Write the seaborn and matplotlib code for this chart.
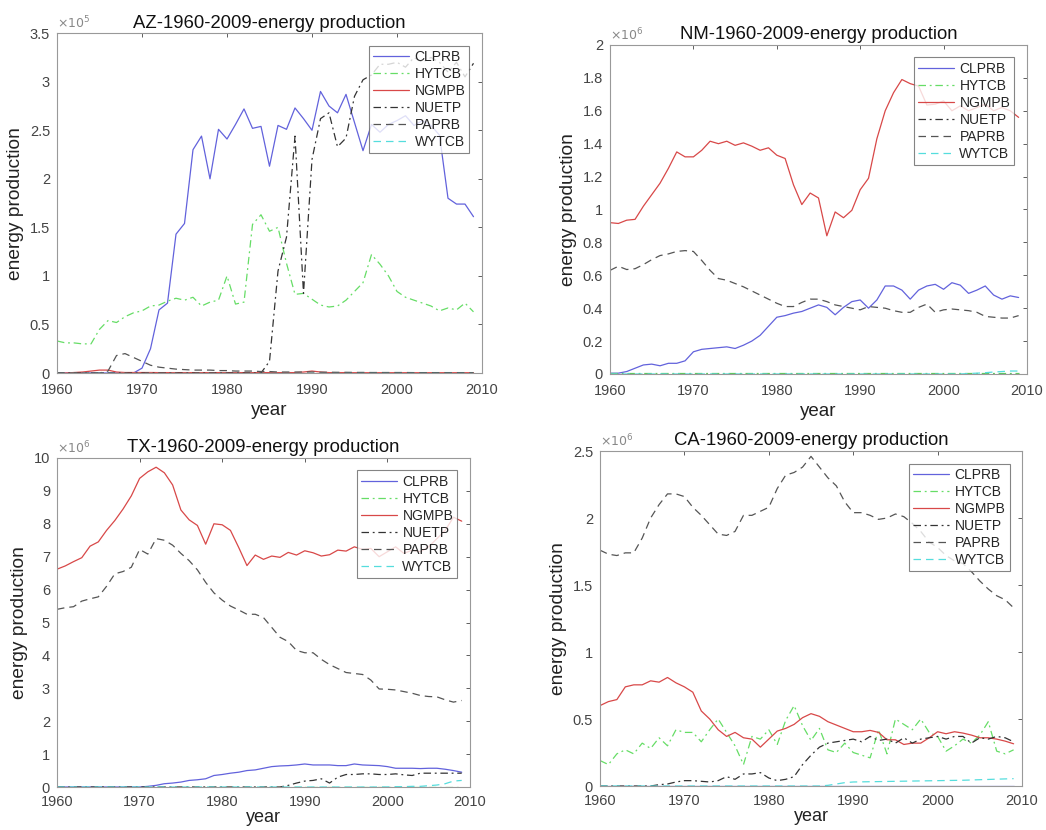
import numpy as np
import pandas as pd
import matplotlib
matplotlib.use("Agg")
import matplotlib.pyplot as plt
import seaborn as sns

years = list(range(1960, 2010))
series_names = ["CLPRB", "HYTCB", "NGMPB", "NUETP", "PAPRB", "WYTCB"]

# ---------------- AZ (x1e5) ----------------
az_CLPRB = [0, 0, 0, 0, 0, 0, 0, 0, 0, 0,
            0.05, 0.25, 0.65, 0.72, 1.43, 1.54, 2.30, 2.44, 2.00, 2.51,
            2.41, 2.56, 2.72, 2.52, 2.54, 2.13, 2.55, 2.51, 2.73, 2.62,
            2.50, 2.90, 2.75, 2.68, 2.87, 2.58, 2.29, 2.56, 2.48, 2.56,
            2.60, 2.65, 2.55, 2.60, 2.55, 2.45, 1.80, 1.74, 1.74, 1.61]
az_HYTCB = [0.33, 0.31, 0.31, 0.30, 0.30, 0.45, 0.54, 0.52, 0.58, 0.62,
            0.64, 0.69, 0.70, 0.74, 0.77, 0.75, 0.78, 0.69, 0.73, 0.75,
            1.00, 0.71, 0.73, 1.53, 1.63, 1.46, 1.50, 1.13, 0.81, 0.82,
            0.76, 0.70, 0.68, 0.69, 0.75, 0.84, 0.93, 1.22, 1.12, 1.00,
            0.84, 0.78, 0.75, 0.72, 0.69, 0.64, 0.67, 0.65, 0.72, 0.63]
az_NGMPB = [0.0, 0.0, 0.005, 0.01, 0.02, 0.03, 0.03, 0.01, 0.005, 0.005,
            0.005, 0.005, 0.004, 0.004, 0.004, 0.004, 0.004, 0.004, 0.004, 0.004,
            0.004, 0.004, 0.004, 0.004, 0.004, 0.004, 0.004, 0.004, 0.004, 0.01,
            0.02, 0.01, 0.004, 0.004, 0.004, 0.003, 0.003, 0.003, 0.003, 0.003,
            0.003, 0.003, 0.003, 0.003, 0.003, 0.003, 0.003, 0.003, 0.003, 0.003]
az_NUETP = [0] * 25 + [0.12, 1.05, 1.40, 2.44, 0.82,
                       2.20, 2.62, 2.68, 2.33, 2.42, 2.85, 3.02, 3.07, 3.18, 3.18,
                       3.20, 3.15, 3.25, 3.20, 3.25, 3.20, 3.10, 3.20, 3.05, 3.19]
az_PAPRB = [0, 0, 0, 0, 0, 0, 0.02, 0.18, 0.20, 0.16,
            0.12, 0.08, 0.06, 0.05, 0.04, 0.035, 0.03, 0.03, 0.03, 0.025,
            0.025, 0.02, 0.02, 0.02, 0.015, 0.015, 0.01, 0.01, 0.01, 0.01,
            0.01, 0.008, 0.008, 0.007, 0.007, 0.006, 0.006, 0.005, 0.005, 0.005,
            0.005, 0.005, 0.004, 0.004, 0.004, 0.004, 0.004, 0.004, 0.004, 0.004]
az_WYTCB = [0] * 50

# ---------------- NM (x1e6) ----------------
nm_CLPRB = [0.005, 0.005, 0.015, 0.035, 0.055, 0.06, 0.05, 0.065, 0.065, 0.08,
            0.135, 0.15, 0.155, 0.16, 0.165, 0.155, 0.175, 0.20, 0.235, 0.29,
            0.345, 0.355, 0.37, 0.38, 0.40, 0.42, 0.405, 0.36, 0.405, 0.44,
            0.45, 0.40, 0.45, 0.535, 0.535, 0.51, 0.455, 0.51, 0.535, 0.545,
            0.515, 0.555, 0.54, 0.49, 0.51, 0.535, 0.48, 0.455, 0.475, 0.465]
nm_HYTCB = [0.004] * 50
nm_NGMPB = [0.92, 0.915, 0.935, 0.94, 1.02, 1.09, 1.16, 1.25, 1.35, 1.32,
            1.32, 1.36, 1.415, 1.40, 1.415, 1.39, 1.405, 1.385, 1.36, 1.375,
            1.33, 1.31, 1.15, 1.03, 1.10, 1.07, 0.84, 0.985, 0.95, 0.995,
            1.12, 1.19, 1.43, 1.60, 1.71, 1.79, 1.765, 1.75, 1.635, 1.64,
            1.66, 1.60, 1.63, 1.60, 1.62, 1.64, 1.60, 1.62, 1.60, 1.56]
nm_NUETP = [0] * 50
nm_PAPRB = [0.63, 0.655, 0.635, 0.64, 0.665, 0.695, 0.72, 0.73, 0.745, 0.75,
            0.745, 0.69, 0.63, 0.58, 0.57, 0.55, 0.53, 0.505, 0.48, 0.455,
            0.43, 0.41, 0.41, 0.435, 0.455, 0.455, 0.44, 0.42, 0.41, 0.40,
            0.39, 0.41, 0.405, 0.40, 0.385, 0.375, 0.375, 0.405, 0.425, 0.375,
            0.39, 0.395, 0.39, 0.385, 0.375, 0.35, 0.345, 0.34, 0.34, 0.355]
nm_WYTCB = [0] * 43 + [0.003, 0.005, 0.008, 0.012, 0.015, 0.018, 0.018]

# ---------------- TX (x1e6) ----------------
tx_CLPRB = [0] * 11 + [0.02, 0.05, 0.10, 0.12, 0.15, 0.20, 0.22, 0.25, 0.35,
                       0.38, 0.42, 0.45, 0.50, 0.52, 0.57, 0.62, 0.64, 0.65, 0.67,
                       0.70, 0.67, 0.67, 0.67, 0.65, 0.65, 0.70, 0.67, 0.66, 0.65,
                       0.62, 0.57, 0.57, 0.57, 0.56, 0.57, 0.57, 0.54, 0.50, 0.45]
tx_HYTCB = [0.01] * 50
tx_NGMPB = [6.62, 6.72, 6.85, 6.97, 7.32, 7.45, 7.80, 8.10, 8.45, 8.85,
            9.38, 9.58, 9.72, 9.55, 9.18, 8.42, 8.12, 7.95, 7.38, 8.00,
            7.97, 7.80, 7.28, 6.73, 7.05, 6.92, 7.02, 6.98, 7.13, 7.05,
            7.18, 7.12, 7.02, 7.06, 7.20, 7.17, 7.30, 7.22, 7.25, 7.00,
            7.15, 7.30, 7.10, 7.20, 7.15, 7.30, 7.55, 7.80, 8.20, 8.08]
tx_NUETP = [0] * 28 + [0.05, 0.12, 0.18, 0.20, 0.25, 0.12, 0.30, 0.38, 0.38, 0.40,
                       0.40, 0.38, 0.38, 0.40, 0.37, 0.35, 0.42, 0.42, 0.42, 0.42,
                       0.42, 0.42]
tx_PAPRB = [5.40, 5.45, 5.48, 5.65, 5.72, 5.78, 6.10, 6.48, 6.55, 6.68,
            7.22, 7.08, 7.55, 7.50, 7.35, 7.10, 6.88, 6.60, 6.22, 5.90,
            5.68, 5.50, 5.38, 5.25, 5.25, 5.15, 4.85, 4.55, 4.42, 4.15,
            4.08, 4.08, 3.88, 3.72, 3.60, 3.48, 3.45, 3.42, 3.25, 2.98,
            2.97, 2.95, 2.90, 2.85, 2.78, 2.75, 2.74, 2.65, 2.58, 2.63]
tx_WYTCB = [0] * 40 + [0.003, 0.01, 0.01, 0.02, 0.02, 0.04, 0.06, 0.10, 0.18, 0.20]

# ---------------- CA (x1e6) ----------------
ca_CLPRB = [0.001] * 50
ca_HYTCB = [0.19, 0.16, 0.24, 0.27, 0.24, 0.32, 0.28, 0.36, 0.30, 0.42,
            0.40, 0.40, 0.33, 0.42, 0.50, 0.40, 0.30, 0.16, 0.37, 0.35,
            0.42, 0.31, 0.49, 0.60, 0.45, 0.34, 0.43, 0.27, 0.25, 0.32,
            0.25, 0.23, 0.21, 0.42, 0.24, 0.50, 0.46, 0.42, 0.50, 0.40,
            0.37, 0.26, 0.30, 0.35, 0.32, 0.38, 0.48, 0.26, 0.24, 0.27]
ca_NGMPB = [0.60, 0.63, 0.645, 0.74, 0.755, 0.755, 0.785, 0.775, 0.81, 0.77,
            0.74, 0.70, 0.56, 0.50, 0.42, 0.37, 0.40, 0.36, 0.35, 0.29,
            0.35, 0.41, 0.43, 0.46, 0.51, 0.54, 0.52, 0.48, 0.455, 0.43,
            0.405, 0.405, 0.415, 0.40, 0.345, 0.345, 0.31, 0.32, 0.32, 0.36,
            0.405, 0.39, 0.405, 0.395, 0.38, 0.36, 0.36, 0.35, 0.335, 0.315]
ca_NUETP = [0, 0, 0, 0, 0, 0, 0, 0.01, 0.015, 0.03,
            0.04, 0.04, 0.035, 0.03, 0.04, 0.07, 0.05, 0.09, 0.09, 0.10,
            0.06, 0.04, 0.05, 0.07, 0.16, 0.23, 0.29, 0.32, 0.33, 0.34,
            0.35, 0.33, 0.37, 0.34, 0.35, 0.32, 0.36, 0.32, 0.35, 0.36,
            0.37, 0.35, 0.37, 0.37, 0.32, 0.36, 0.35, 0.37, 0.36, 0.33]
ca_PAPRB = [1.76, 1.73, 1.72, 1.74, 1.74, 1.85, 2.00, 2.10, 2.18, 2.18,
            2.16, 2.08, 2.02, 1.95, 1.88, 1.87, 1.90, 2.02, 2.02, 2.05,
            2.08, 2.22, 2.32, 2.34, 2.38, 2.46, 2.38, 2.30, 2.24, 2.12,
            2.04, 2.04, 2.02, 1.99, 2.00, 2.03, 2.01, 1.96, 1.90, 1.82,
            1.78, 1.72, 1.68, 1.66, 1.60, 1.53, 1.47, 1.42, 1.39, 1.33]
ca_WYTCB = [0] * 27 + [0.005, 0.015, 0.025,
                       0.03, 0.031, 0.032, 0.033, 0.034, 0.035, 0.036, 0.037, 0.038, 0.039,
                       0.04, 0.041, 0.042, 0.043, 0.045, 0.047, 0.049, 0.051, 0.053, 0.055]

states = ["AZ", "NM", "TX", "CA"]
state_data = {
    "AZ": [az_CLPRB, az_HYTCB, az_NGMPB, az_NUETP, az_PAPRB, az_WYTCB],
    "NM": [nm_CLPRB, nm_HYTCB, nm_NGMPB, nm_NUETP, nm_PAPRB, nm_WYTCB],
    "TX": [tx_CLPRB, tx_HYTCB, tx_NGMPB, tx_NUETP, tx_PAPRB, tx_WYTCB],
    "CA": [ca_CLPRB, ca_HYTCB, ca_NGMPB, ca_NUETP, ca_PAPRB, ca_WYTCB],
}
state_exp = {"AZ": 5, "NM": 6, "TX": 6, "CA": 6}
state_yticks = {
    "AZ": [0, 0.5, 1, 1.5, 2, 2.5, 3, 3.5],
    "NM": [0, 0.2, 0.4, 0.6, 0.8, 1, 1.2, 1.4, 1.6, 1.8, 2],
    "TX": [0, 1, 2, 3, 4, 5, 6, 7, 8, 9, 10],
    "CA": [0, 0.5, 1, 1.5, 2, 2.5],
}
xticks = [1960, 1970, 1980, 1990, 2000, 2010]

colors = ["#6262dc", "#66dd66", "#d84848", "#333333", "#555555", "#55dddd"]
styles = ["-", (0, (6, 3, 1.5, 3)), "-", (0, (6, 3, 1.5, 3)), (0, (6, 4)), (0, (6, 4))]

sns.set_theme(style="white")
plt.rcParams["font.family"] = ["Liberation Sans", "DejaVu Sans"]

fig = plt.figure(figsize=(10.46, 8.30), dpi=100)
positions = {
    "AZ": [0.0545, 0.5506, 0.4063, 0.4094],
    "NM": [0.5832, 0.5494, 0.3986, 0.3964],
    "TX": [0.0545, 0.0518, 0.3948, 0.3964],
    "CA": [0.5736, 0.0530, 0.4035, 0.4036],
}
bottom_row = {"TX", "CA"}

for st in states:
    ax = fig.add_axes(positions[st])
    scale = 10 ** state_exp[st]
    rows = []
    for name, vals in zip(series_names, state_data[st]):
        for y, v in zip(years, vals):
            rows.append({"year": y, "value": v * scale, "series": name})
    df = pd.DataFrame(rows)
    for i, name in enumerate(series_names):
        sub = df[df["series"] == name]
        sns.lineplot(data=sub, x="year", y="value", ax=ax, color=colors[i],
                     linestyle=styles[i], linewidth=0.9, label=name)
    ymax = state_yticks[st][-1] * scale
    ax.set_xlim(1960, 2010)
    ax.set_ylim(0, ymax)
    ax.set_xticks(xticks)
    ax.set_xticklabels([str(t) for t in xticks])
    ax.set_yticks([t * scale for t in state_yticks[st]])
    ax.set_yticklabels([f"{t:g}" for t in state_yticks[st]])
    ax.tick_params(direction="in", top=True, right=True, length=3,
                   labelsize=10.5, colors="#444444", width=0.6)
    ax.tick_params(axis="x", pad=6 if st in bottom_row else 7)
    ax.tick_params(axis="y", pad=5)
    for sp in ax.spines.values():
        sp.set_color("#999999")
        sp.set_linewidth(0.8)
    ax.text(0.0, 1.005, r"$\times10^{%d}$" % state_exp[st], transform=ax.transAxes,
            fontsize=9, color="#888888", ha="left", va="bottom")
    ax.set_title(f"{st}-1960-2009-energy production", fontsize=13.3,
                 color="#111111", pad=4)
    ax.set_xlabel("year", fontsize=13 if st in bottom_row else 13.5,
                  color="#222222", labelpad=0 if st in bottom_row else 4)
    ax.set_ylabel("energy production", fontsize=13.8, color="#222222", labelpad=4)
    leg = ax.legend(loc="upper right", fontsize=10, frameon=True, fancybox=False,
                    handlelength=2.6, handletextpad=0.4, borderpad=0.3,
                    labelspacing=0.22, borderaxespad=0.9)
    leg.get_frame().set_edgecolor("#666666")
    leg.get_frame().set_linewidth(0.8)

fig.savefig("out.png", dpi=100)
